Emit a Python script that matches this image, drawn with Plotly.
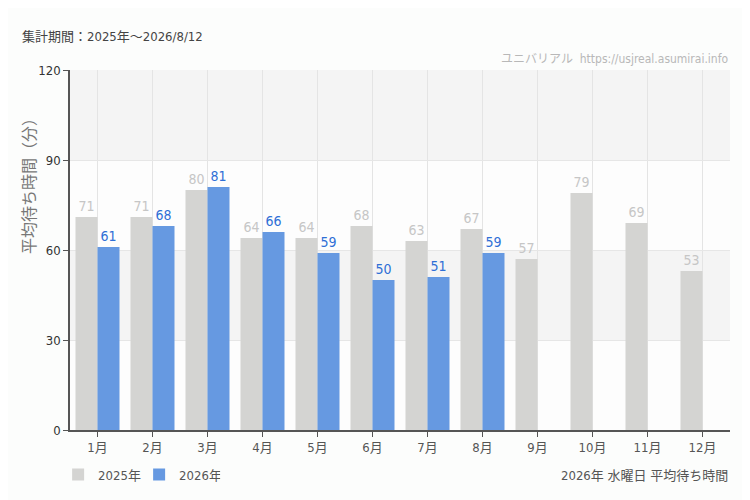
import plotly.graph_objects as go

months = ["1月", "2月", "3月", "4月", "5月", "6月", "7月", "8月", "9月", "10月", "11月", "12月"]
wait_2025 = [71, 71, 80, 64, 64, 68, 63, 67, 57, 79, 69, 53]
wait_2026 = [61, 68, 81, 66, 59, 50, 51, 59, None, None, None, None]
y_ticks = [0, 30, 60, 90, 120]

FONT = "DejaVu Sans Condensed, Noto Sans CJK JP, sans-serif"

fig = go.Figure()

fig.add_trace(go.Bar(
    x=months, y=wait_2025, name="2025年",
    marker=dict(color="#d4d4d2", line=dict(width=0)),
    text=wait_2025, textposition="outside",
    textfont=dict(color="#c6c6c6", size=14, family=FONT),
    cliponaxis=False,
))
fig.add_trace(go.Bar(
    x=months, y=wait_2026, name="2026年",
    marker=dict(color="#6699e1", line=dict(width=0)),
    text=wait_2026, textposition="outside",
    textfont=dict(color="#2f6fd6", size=14, family=FONT),
    cliponaxis=False,
))

# alternating bands
for lo, hi in [(30, 60), (90, 120)]:
    fig.add_shape(type="rect", xref="paper", yref="y", x0=0, x1=1, y0=lo, y1=hi,
                  fillcolor="#f4f4f4", line=dict(width=0), layer="below")

# page has an 8px body margin, so size/margins are trimmed by 8
fig.update_layout(
    width=742, height=492,
    margin=dict(l=62, r=20, t=62, b=70, autoexpand=False),
    paper_bgcolor="#fcfdfc",
    plot_bgcolor="#fdfdfd",
    barmode="group",
    bargap=0.2,
    bargroupgap=0,
    font=dict(family=FONT, color="#555555", size=13),
    showlegend=True,
    legend=dict(orientation="h", x=-0.018, xanchor="left",
                yref="container", y=0.082, yanchor="top",
                font=dict(size=13, color="#555555"), itemwidth=30,
                entrywidth=36, entrywidthmode="pixels"),
)

fig.update_xaxes(
    showline=True, linecolor="#555555", linewidth=1.5,
    showgrid=True, gridcolor="#e4e4e4", gridwidth=1,
    ticks="outside", ticklen=5, tickcolor="#555555",
    tickfont=dict(size=13, color="#555555"),
)
fig.update_yaxes(
    range=[0, 120], tickvals=y_ticks,
    showline=True, linecolor="#555555", linewidth=1.5,
    showgrid=True, gridcolor="#e6e6e6", gridwidth=1,
    ticks="outside", ticklen=5, tickcolor="#555555",
    tickfont=dict(size=13, color="#333333"),
    zeroline=False,
)

fig.add_annotation(text="平均待ち時間（分）", xref="paper", yref="paper",
                   x=-0.0606, y=0.689, xanchor="center", yanchor="middle", textangle=-90,
                   showarrow=False, font=dict(size=16, color="#777777"))
fig.add_annotation(text="集計期間：2025年～2026/8/12", xref="paper", yref="paper",
                   x=-0.076, y=1.092, xanchor="left", yanchor="middle", showarrow=False,
                   font=dict(size=13, color="#444444"))
fig.add_annotation(text="ユニバリアル  https://usjreal.asumirai.info", xref="paper", yref="paper",
                   x=1, y=1.005, xanchor="right", yanchor="bottom", showarrow=False,
                   font=dict(size=12, color="#b8b8b8"))
fig.add_annotation(text="2026年 水曜日 平均待ち時間", xref="paper", yref="paper",
                   x=1, y=-0.125, xanchor="right", yanchor="middle", showarrow=False,
                   font=dict(size=13, color="#555555"))

fig.write_html("out.html")
